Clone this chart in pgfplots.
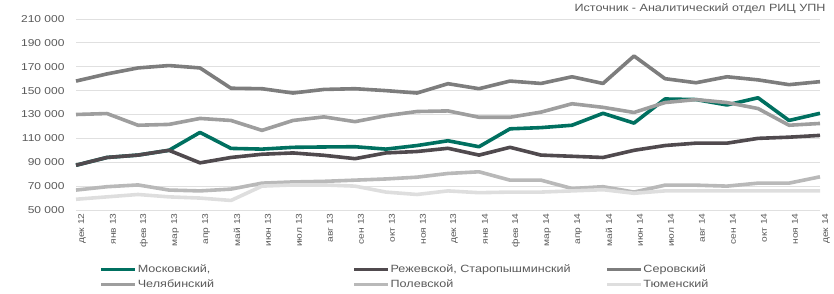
\documentclass[border=0pt]{standalone}
\usepackage{fontspec}
\setmainfont{Liberation Sans}[FakeStretch=1.2]
\usepackage{pgfplots}
\pgfplotsset{compat=1.18}
\definecolor{cMos}{RGB}{0,112,96}
\definecolor{cRez}{RGB}{80,74,78}
\definecolor{cSer}{RGB}{125,125,125}
\definecolor{cChel}{RGB}{158,158,158}
\definecolor{cPol}{RGB}{185,185,185}
\definecolor{cTyu}{RGB}{222,222,222}
\definecolor{txt}{RGB}{89,89,89}
\begin{document}
\begin{tikzpicture}[x=1pt,y=1pt]
\useasboundingbox (0,0) rectangle (834,294);
\begin{axis}[
  at={(76pt,84pt)}, anchor=south west,
  scale only axis, width=744pt, height=191pt,
  xmin=0, xmax=24, ymin=50000, ymax=210000,
  scaled y ticks=false,
  xtick={0,1,...,24},
  xticklabels={дек 12,янв 13,фев 13,мар 13,апр 13,май 13,июн 13,июл 13,авг 13,сен 13,окт 13,ноя 13,дек 13,янв 14,фев 14,мар 14,апр 14,май 14,июн 14,июл 14,авг 14,сен 14,окт 14,ноя 14,дек 14},
  x tick label style={rotate=90, anchor=east, font=\fontsize{8.5}{9}\selectfont, text=txt, yshift=-6pt},
  ytick={50000,70000,90000,110000,130000,150000,170000,190000,210000},
  yticklabels={50 000,70 000,90 000,110 000,130 000,150 000,170 000,190 000,210 000},
  y tick label style={font=\fontsize{10}{11}\selectfont, text=txt, xshift=-8pt},
  axis line style={draw=none},
  major tick length=0pt,
  ymajorgrids,
  grid style={color=black!12, line width=0.8pt},
  clip=false,
  legend columns=3,
  legend cell align=left,
  legend style={at={(0.028,-0.27)}, anchor=north west, draw=none, fill=none,
    font=\fontsize{10.5}{11}\selectfont, text=txt,
    nodes={inner sep=1pt}, row sep=4pt,
    /tikz/every even column/.append style={column sep=0pt}},
  legend image code/.code={\draw[#1, line width=2.8pt] (0pt,0pt) -- (34pt,0pt);},
  every axis plot/.append style={line width=3.6pt, line join=round, no markers},
]
\addplot[cMos] coordinates {(0,87500)(1,94000)(2,96000)(3,100000)(4,115000)(5,101600)(6,101000)(7,102500)(8,102800)(9,103000)(10,101000)(11,104000)(12,108000)(13,103000)(14,118000)(15,119000)(16,121000)(17,131000)(18,122800)(19,143000)(20,142500)(21,138000)(22,144000)(23,125000)(24,131000)};
\addlegendentry{\makebox[214pt][l]{Московский,}}
\addplot[cRez] coordinates {(0,87500)(1,94000)(2,96000)(3,100000)(4,89500)(5,94000)(6,96700)(7,97800)(8,95800)(9,93000)(10,97800)(11,99000)(12,101700)(13,96000)(14,102500)(15,96000)(16,95000)(17,94000)(18,100000)(19,104000)(20,106000)(21,106000)(22,110000)(23,111000)(24,112500)};
\addlegendentry{\makebox[214pt][l]{Режевской, Старопышминский}}
\addplot[cSer] coordinates {(0,158000)(1,164000)(2,169000)(3,171000)(4,169000)(5,152000)(6,151600)(7,148000)(8,151000)(9,151600)(10,150000)(11,148000)(12,155800)(13,151600)(14,158000)(15,156000)(16,161600)(17,156000)(18,179000)(19,160000)(20,156600)(21,161600)(22,159000)(23,155000)(24,157500)};
\addlegendentry{Серовский}
\addplot[cChel] coordinates {(0,130000)(1,130800)(2,121000)(3,121700)(4,126700)(5,125000)(6,116700)(7,125000)(8,128000)(9,124000)(10,129000)(11,132500)(12,133000)(13,127700)(14,127700)(15,132000)(16,139000)(17,136000)(18,131700)(19,140000)(20,142500)(21,140000)(22,135000)(23,121000)(24,122500)};
\addlegendentry{Челябинский}
\addplot[cPol] coordinates {(0,66700)(1,69500)(2,71000)(3,66700)(4,66000)(5,67500)(6,72500)(7,73500)(8,74000)(9,75000)(10,76000)(11,77500)(12,80600)(13,82000)(14,75000)(15,75000)(16,68000)(17,69500)(18,65000)(19,70800)(20,70800)(21,70000)(22,72500)(23,72500)(24,77800)};
\addlegendentry{Полевской}
\addplot[cTyu] coordinates {(0,59000)(1,61000)(2,63000)(3,61000)(4,60000)(5,58000)(6,70000)(7,71000)(8,71000)(9,70000)(10,65000)(11,63000)(12,66000)(13,64500)(14,65000)(15,65000)(16,66000)(17,67000)(18,64000)(19,66000)(20,66000)(21,66000)(22,66000)(23,66000)(24,66000)};
\addlegendentry{Тюменский}
\end{axis}
\node[anchor=east, font=\fontsize{10.5}{11}\selectfont, text=txt] at (829,285) {Источник - Аналитический отдел РИЦ УПН};
\end{tikzpicture}
\end{document}
